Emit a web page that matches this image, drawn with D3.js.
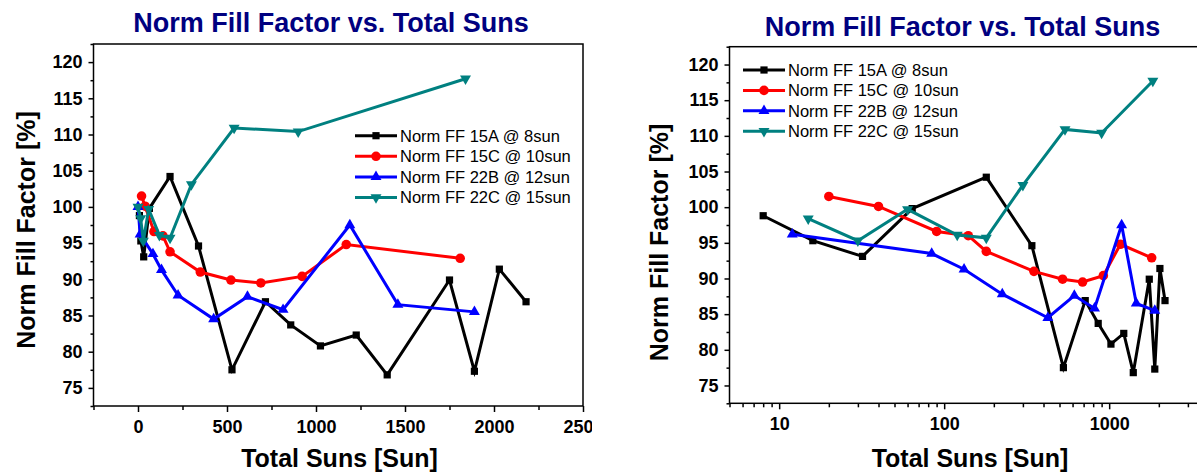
<!DOCTYPE html>
<html><head><meta charset="utf-8">
<script src="https://cdn.jsdelivr.net/npm/d3@7"></script>
<style>
body{margin:0;background:#fff}
svg{display:block}
text{font-family:"Liberation Sans",Arial,Helvetica,sans-serif}
</style></head><body>
<svg id="c" width="1197" height="473"></svg>
<script>
// Total suns (x) and normalized fill factor in % (y) for each cell
const suns15A = [8,16,32,64,180,340,528,716,858,1025,1226,1400,1750,1890,2030,2180];
const ff15A   = [98.8,95.3,93.1,99.8,104.2,94.6,77.5,86.9,83.7,80.8,82.3,76.8,89.9,77.3,91.4,86.9];
const suns15C = [20,40,90,140,180,350,522,690,922,1170,1810];
const ff15C   = [101.5,100.1,96.6,96.0,93.8,91.0,89.9,89.5,90.4,94.8,92.9];
const suns22B = [0,12,84,132,225,425,615,815,1190,1460,1890];
const ff22B   = [100,96.2,93.5,91.3,87.8,84.5,87.6,85.8,97.5,86.5,85.5];
const suns22C = [0,15,30,60,120,180,300,540,900,1840];
const ff22C   = [100,98.4,95.3,99.7,96.1,95.7,103.1,110.9,110.4,117.7];

const seriesNames = ["Norm FF 15A @ 8sun","Norm FF 15C @ 10sun","Norm FF 22B @ 12sun","Norm FF 22C @ 15sun"];
const yTickValues = [75,80,85,90,95,100,105,110,115,120];
const xTickLinear = [0,500,1000,1500,2000,2500];
const xTickLog = [10,100,1000];
const chartTitle = "Norm Fill Factor vs. Total Suns";
const xTitle = "Total Suns [Sun]";
const yTitle = "Norm Fill Factor [%]";

const series = [
  {name: seriesNames[0], x: suns15A, y: ff15A, color: "#000000", shape: "square"},
  {name: seriesNames[1], x: suns15C, y: ff15C, color: "#ff0000", shape: "circle"},
  {name: seriesNames[2], x: suns22B, y: ff22B, color: "#0000ff", shape: "up"},
  {name: seriesNames[3], x: suns22C, y: ff22C, color: "#008080", shape: "down"}
];

function symbolPath(shape) {
  if (shape === "square") return d3.symbol(d3.symbolSquare, 52)();
  if (shape === "circle") return d3.symbol(d3.symbolCircle, 72)();
  return d3.symbol(d3.symbolTriangle, 52)();
}
function drawMarker(g, shape, color, cx, cy) {
  g.append("path")
    .attr("d", symbolPath(shape))
    .attr("transform", `translate(${cx},${cy})` + (shape === "down" ? " rotate(180)" : ""))
    .attr("fill", color);
}

function drawPanel(root, cfg) {
  const {x, y} = cfg;
  const [x0, x1] = x.range();
  const [yb, yt] = y.range();
  const g = root.append("g");

  // minor ticks
  g.append("g").attr("transform", `translate(0,${yb})`)
    .call(d3.axisBottom(x).tickValues(cfg.xMinor).tickSize(4).tickSizeOuter(0).tickFormat(""))
    .call(s => s.select(".domain").remove());
  g.append("g").attr("transform", `translate(${x0},0)`)
    .call(d3.axisLeft(y).tickValues(cfg.yMinor).tickSize(3).tickSizeOuter(0).tickFormat(""))
    .call(s => s.select(".domain").remove());

  // major ticks with labels
  const xa = g.append("g").attr("transform", `translate(0,${yb})`)
    .call(d3.axisBottom(x).tickValues(cfg.xMajor).tickSize(6).tickPadding(8).tickSizeOuter(0).tickFormat(d3.format("d")));
  xa.select(".domain").remove();
  const ya = g.append("g").attr("transform", `translate(${x0},0)`)
    .call(d3.axisLeft(y).tickValues(yTickValues).tickSize(5).tickPadding(6).tickSizeOuter(0).tickFormat(d3.format("d")));
  ya.select(".domain").remove();
  g.selectAll(".tick line").attr("stroke", "#000").attr("stroke-width", 1.5);
  g.selectAll(".tick text").attr("font-size", 18).attr("font-weight", "bold")
    .attr("font-family", '"Liberation Sans",Arial,sans-serif').attr("fill", "#000");

  // frame
  g.append("rect").attr("x", x0).attr("y", yt).attr("width", x1 - x0).attr("height", yb - yt)
    .attr("fill", "none").attr("stroke", "#000").attr("stroke-width", 1.5);

  // series lines then markers
  const plot = g.append("g");
  series.forEach(s => {
    const pts = s.x.map((v, i) => [v, s.y[i]]).filter(p => cfg.log ? p[0] > 0 : true);
    plot.append("path")
      .attr("d", d3.line().x(p => x(p[0])).y(p => y(p[1]))(pts))
      .attr("fill", "none").attr("stroke", s.color).attr("stroke-width", 3)
      .attr("stroke-linejoin", "miter");
    pts.forEach(p => drawMarker(plot, s.shape, s.color, x(p[0]), y(p[1])));
  });

  // legend
  const lg = g.append("g");
  series.forEach((s, i) => {
    const ly = cfg.legend.y + i * cfg.legend.dy;
    lg.append("line").attr("x1", cfg.legend.x).attr("x2", cfg.legend.x + 42)
      .attr("y1", ly).attr("y2", ly).attr("stroke", s.color).attr("stroke-width", 3);
    drawMarker(lg, s.shape, s.color, cfg.legend.x + 21, ly);
    lg.append("text").attr("x", cfg.legend.x + 45).attr("y", ly).attr("dy", "0.36em")
      .attr("font-size", 16.5).attr("fill", "#000").text(s.name);
  });

  // titles
  g.append("text").attr("x", cfg.title.x).attr("y", cfg.title.y)
    .attr("text-anchor", "middle").attr("font-size", 27).attr("font-weight", "bold")
    .attr("fill", "#000080").text(chartTitle);
  g.append("text").attr("x", cfg.xLabel.x).attr("y", cfg.xLabel.y)
    .attr("text-anchor", "middle").attr("font-size", 25).attr("font-weight", "bold")
    .attr("fill", "#000").text(xTitle);
  g.append("text").attr("transform", `translate(${cfg.yLabel.x},${cfg.yLabel.y}) rotate(-90)`)
    .attr("text-anchor", "middle").attr("font-size", 25).attr("font-weight", "bold")
    .attr("fill", "#000").text(yTitle);
}

const svg = d3.select("#c");

// linear panel (clipped at its own image edge)
const left = svg.append("svg").attr("x", 0).attr("y", 0).attr("width", 592).attr("height", 473);
drawPanel(left, {
  x: d3.scaleLinear().domain([-250, 2500]).range([93.5, 583]),
  y: d3.scaleLinear().domain([72.5, 122.5]).range([406, 44]),
  xMajor: xTickLinear,
  xMinor: d3.range(-250, 2500, 500),
  yMinor: d3.range(72.5, 123, 5),
  log: false,
  legend: {x: 355, y: 135.7, dy: 20.6},
  title: {x: 331, y: 32},
  xLabel: {x: 339.5, y: 467},
  yLabel: {x: 34.5, y: 230}
});

// log panel
const logMinor = [];
[1, 10, 100, 1000].forEach(d => d3.range(2, 10).forEach(k => {
  const v = k * d;
  if (v >= 5 && v <= 5000) logMinor.push(v);
}));
const right = svg.append("svg").attr("x", 0).attr("y", 0).attr("width", 1197).attr("height", 473);
drawPanel(right, {
  x: d3.scaleLog().domain([5, 5000]).range([729.5, 1224.5]),
  y: d3.scaleLinear().domain([72.5, 122.5]).range([403.3, 46.7]),
  xMajor: xTickLog,
  xMinor: logMinor,
  yMinor: d3.range(72.5, 123, 5),
  log: true,
  legend: {x: 743, y: 70, dy: 20.4},
  title: {x: 962.6, y: 36},
  xLabel: {x: 970, y: 467},
  yLabel: {x: 668, y: 242.5}
});
</script>
</body></html>
